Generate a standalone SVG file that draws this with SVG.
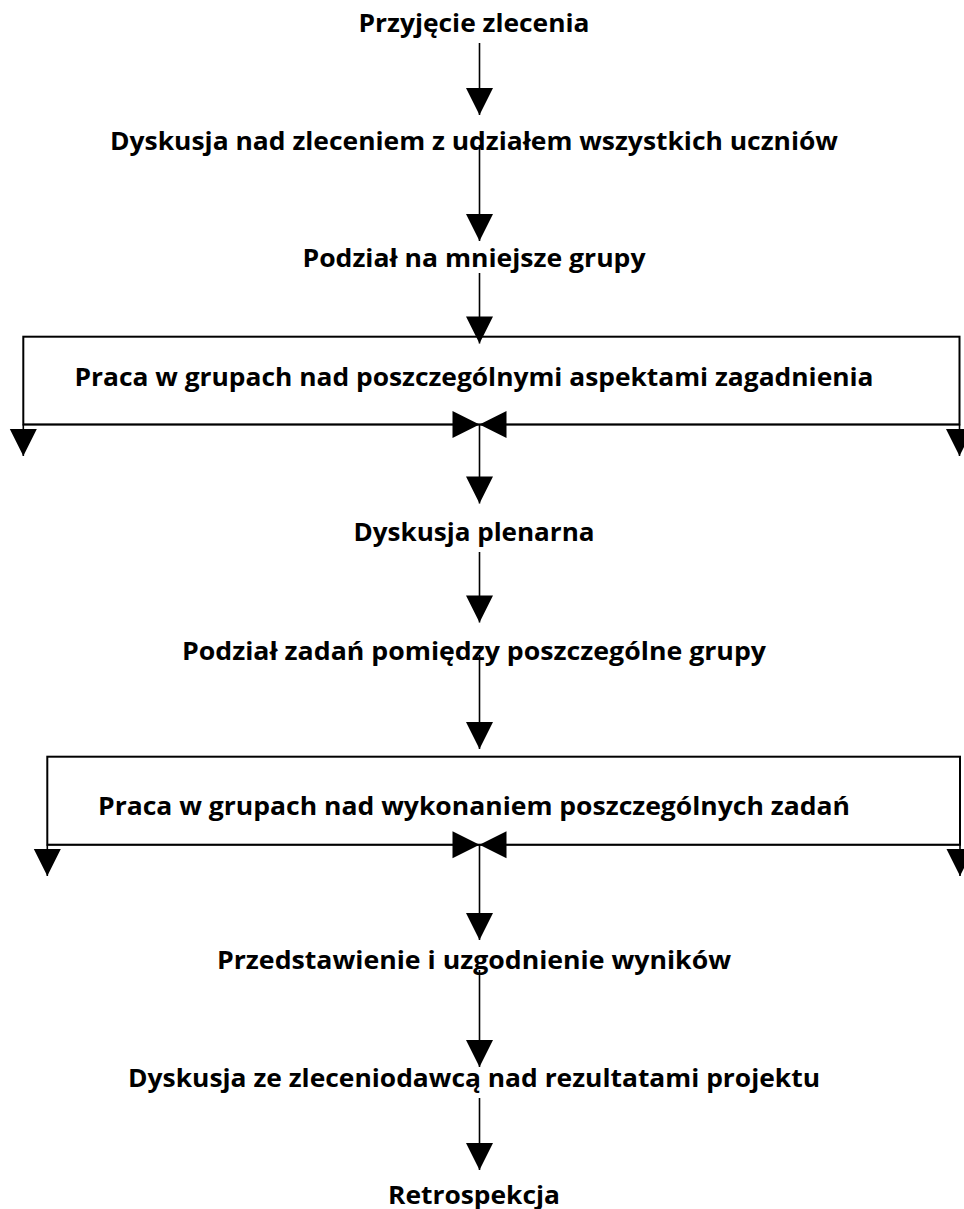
<svg xmlns="http://www.w3.org/2000/svg" width="964" height="1209" viewBox="0 0 964 1209">
<style>
.t{font-family:"Open Sans","Noto Sans","Liberation Sans",sans-serif;font-weight:bold;font-size:25px;fill:#000;text-anchor:middle}
.c{stroke:#000;stroke-width:1.6;fill:none}
.box{stroke:#000;stroke-width:2;fill:#fff}
</style>
<defs>
<marker id="ah" markerUnits="userSpaceOnUse" markerWidth="28" markerHeight="28" refX="27" refY="13.5" orient="auto" overflow="visible">
<path d="M0,0 L27,13.5 L0,27 Z" fill="#000"/>
</marker>
</defs>
<rect width="964" height="1209" fill="#fff"/>
<g id="n1"><text class="t" x="474" y="32" textLength="231" lengthAdjust="spacingAndGlyphs">Przyjęcie zlecenia</text></g>
<g id="n4"><rect class="box" x="23.3" y="336.7" width="936.2" height="87.8"/><text class="t" x="474" y="386" textLength="799" lengthAdjust="spacingAndGlyphs">Praca w grupach nad poszczególnymi aspektami zagadnienia</text></g>
<g id="n7"><rect class="box" x="47.3" y="756.7" width="912.7" height="88"/><text class="t" x="474" y="815" textLength="752" lengthAdjust="spacingAndGlyphs">Praca w grupach nad wykonaniem poszczególnych zadań</text></g>
<g id="connectors">
<line class="c" x1="479.5" y1="43" x2="479.5" y2="115" marker-end="url(#ah)"/>
<line class="c" x1="479.5" y1="145" x2="479.5" y2="241" marker-end="url(#ah)"/>
<line class="c" x1="479.5" y1="273" x2="479.5" y2="343.5" marker-end="url(#ah)"/>
<line class="c" x1="23.3" y1="424.5" x2="23.3" y2="456" marker-end="url(#ah)"/>
<line class="c" x1="959.5" y1="424.5" x2="959.5" y2="456" marker-end="url(#ah)"/>
<line class="c" x1="23.3" y1="424.5" x2="479.5" y2="424.5" marker-end="url(#ah)"/>
<line class="c" x1="959.5" y1="424.5" x2="479.5" y2="424.5" marker-end="url(#ah)"/>
<line class="c" x1="479.5" y1="424.5" x2="479.5" y2="503.5" marker-end="url(#ah)"/>
<line class="c" x1="479.5" y1="552" x2="479.5" y2="622.5" marker-end="url(#ah)"/>
<line class="c" x1="479.5" y1="655" x2="479.5" y2="749" marker-end="url(#ah)"/>
<line class="c" x1="47.3" y1="844.7" x2="47.3" y2="876" marker-end="url(#ah)"/>
<line class="c" x1="960" y1="844.7" x2="960" y2="876" marker-end="url(#ah)"/>
<line class="c" x1="47.3" y1="844.7" x2="479.5" y2="844.7" marker-end="url(#ah)"/>
<line class="c" x1="960" y1="844.7" x2="479.5" y2="844.7" marker-end="url(#ah)"/>
<line class="c" x1="479.5" y1="844.7" x2="479.5" y2="940" marker-end="url(#ah)"/>
<line class="c" x1="479.5" y1="970" x2="479.5" y2="1067" marker-end="url(#ah)"/>
<line class="c" x1="479.5" y1="1098" x2="479.5" y2="1170" marker-end="url(#ah)"/>
</g>
<g id="n2"><text class="t" x="474" y="150" textLength="728" lengthAdjust="spacingAndGlyphs">Dyskusja nad zleceniem z udziałem wszystkich uczniów</text></g>
<g id="n3"><text class="t" x="474" y="267" textLength="343" lengthAdjust="spacingAndGlyphs">Podział na mniejsze grupy</text></g>
<g id="n5"><text class="t" x="474" y="541" textLength="241" lengthAdjust="spacingAndGlyphs">Dyskusja plenarna</text></g>
<g id="n6"><text class="t" x="474" y="660" textLength="584" lengthAdjust="spacingAndGlyphs">Podział zadań pomiędzy poszczególne grupy</text></g>
<g id="n8"><text class="t" x="474" y="969" textLength="514" lengthAdjust="spacingAndGlyphs">Przedstawienie i uzgodnienie wyników</text></g>
<g id="n9"><text class="t" x="474" y="1087" textLength="692" lengthAdjust="spacingAndGlyphs">Dyskusja ze zleceniodawcą nad rezultatami projektu</text></g>
<g id="n10"><text class="t" x="474" y="1204" textLength="172" lengthAdjust="spacingAndGlyphs">Retrospekcja</text></g>
</svg>
